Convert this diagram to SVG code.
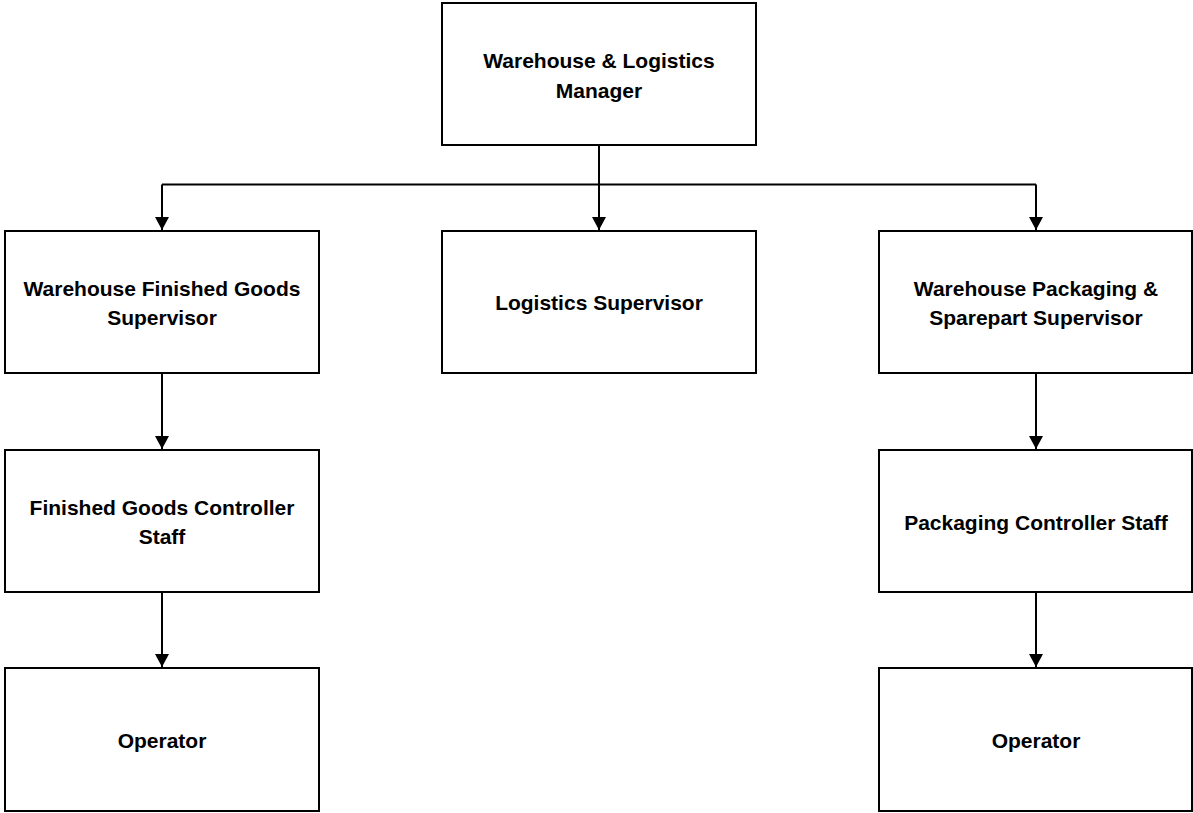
<svg xmlns="http://www.w3.org/2000/svg" width="1193" height="813" viewBox="0 0 1193 813">
  <style>
    .box { fill: #ffffff; stroke: #000000; stroke-width: 2; }
    .lbl { font-family: "Liberation Sans", Arial, sans-serif; font-weight: bold; font-size: 21px; fill: #000000; text-anchor: middle; }
    .conn { fill: none; stroke: #000000; stroke-width: 2; }
  </style>
  <defs>
    <marker id="arrow" markerUnits="userSpaceOnUse" viewBox="0 0 13 14" markerWidth="13" markerHeight="14" refX="13" refY="7" orient="auto">
      <path d="M0,0 L13,7 L0,14 z" fill="#000000"/>
    </marker>
  </defs>
  <rect width="1193" height="813" fill="#ffffff"/>

  <g id="connectors">
    <path class="conn" d="M599,145 V230" marker-end="url(#arrow)"/>
    <path class="conn" d="M162,184.5 H1036"/>
    <path class="conn" d="M162,184.5 V230" marker-end="url(#arrow)"/>
    <path class="conn" d="M1036,184.5 V230" marker-end="url(#arrow)"/>
    <path class="conn" d="M162,373 V449" marker-end="url(#arrow)"/>
    <path class="conn" d="M162,592 V667" marker-end="url(#arrow)"/>
    <path class="conn" d="M1036,373 V449" marker-end="url(#arrow)"/>
    <path class="conn" d="M1036,592 V667" marker-end="url(#arrow)"/>
  </g>

  <g id="manager">
    <rect class="box" x="442" y="3" width="314" height="142"/>
    <text class="lbl" x="599" y="68">Warehouse &amp; Logistics</text>
    <text class="lbl" x="599" y="98">Manager</text>
  </g>

  <g id="wfg-supervisor">
    <rect class="box" x="5" y="231" width="314" height="142"/>
    <text class="lbl" x="162" y="296">Warehouse Finished Goods</text>
    <text class="lbl" x="162" y="325">Supervisor</text>
  </g>

  <g id="logistics-supervisor">
    <rect class="box" x="442" y="231" width="314" height="142"/>
    <text class="lbl" x="599" y="310">Logistics Supervisor</text>
  </g>

  <g id="wps-supervisor">
    <rect class="box" x="879" y="231" width="313" height="142"/>
    <text class="lbl" x="1036" y="296">Warehouse Packaging &amp;</text>
    <text class="lbl" x="1036" y="325">Sparepart Supervisor</text>
  </g>

  <g id="fg-controller">
    <rect class="box" x="5" y="450" width="314" height="142"/>
    <text class="lbl" x="162" y="515">Finished Goods Controller</text>
    <text class="lbl" x="162" y="544">Staff</text>
  </g>

  <g id="pkg-controller">
    <rect class="box" x="879" y="450" width="313" height="142"/>
    <text class="lbl" x="1036" y="530">Packaging Controller Staff</text>
  </g>

  <g id="operator-left">
    <rect class="box" x="5" y="668" width="314" height="143"/>
    <text class="lbl" x="162" y="748">Operator</text>
  </g>

  <g id="operator-right">
    <rect class="box" x="879" y="668" width="313" height="143"/>
    <text class="lbl" x="1036" y="748">Operator</text>
  </g>
</svg>
